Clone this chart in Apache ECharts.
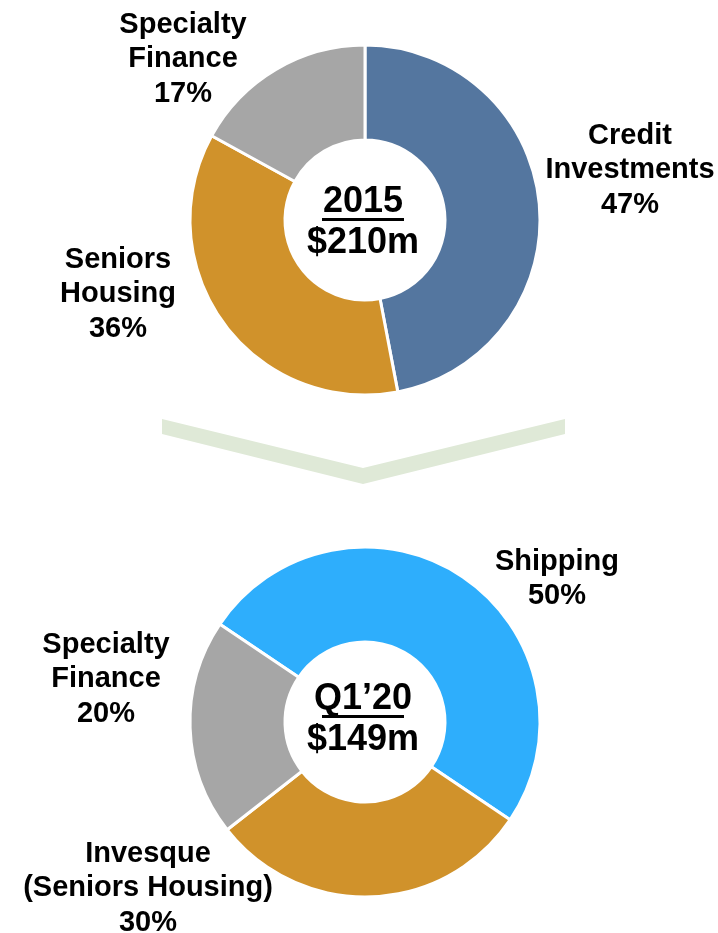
<!DOCTYPE html>
<html>
<head>
<meta charset="utf-8">
<script src="https://cdn.jsdelivr.net/npm/echarts@6/dist/echarts.min.js"></script>
<style>html,body{margin:0;padding:0;background:#fff;}#c{width:718px;height:933px;}</style>
</head>
<body>
<div id="c"></div>
<script>
// ---- data ----
const topTitle = '2015';
const topTotal = '$210m';
const topNames = ['Credit\nInvestments', 'Seniors\nHousing', 'Specialty\nFinance'];
const topValues = [47, 36, 17];
const topColors = ['#54769f', '#d0922b', '#a6a6a6'];

const botTitle = 'Q1\u201920';
const botTotal = '$149m';
const botNames = ['Shipping', 'Invesque\n(Seniors Housing)', 'Specialty\nFinance'];
const botValues = [50, 30, 20];
const botColors = ['#2eaefc', '#d0922b', '#a6a6a6'];

// ---- layout (label anchor positions, px) ----
const topLabelPos = [[630, 170], [118, 294], [183, 59]];
const botLabelPos = [[557, 579], [148, 888], [106, 679]];

const font = '"Liberation Sans", Arial, sans-serif';

function pieSeries(names, values, colors, center, startAngle, labelPos) {
  return {
    type: 'pie',
    center: center,
    radius: [80, 175],
    startAngle: startAngle,
    clockwise: true,
    avoidLabelOverlap: false,
    silent: true,
    itemStyle: { borderColor: '#ffffff', borderWidth: 3 },
    label: {
      show: true,
      position: 'outside',
      formatter: p => p.name + '\n' + p.value + '%',
      color: '#000',
      fontFamily: font,
      fontWeight: 'bold',
      fontSize: 29,
      lineHeight: 34.5,
      align: 'center'
    },
    labelLine: { show: false },
    labelLayout: function (params) {
      const pos = labelPos[params.dataIndex];
      return { x: pos[0], y: pos[1], align: 'center', verticalAlign: 'middle', moveOverlap: null };
    },
    data: names.map((n, i) => ({ name: n, value: values[i], itemStyle: { color: colors[i] } }))
  };
}

function centerText(cx, cy, title, total) {
  return [
    { type: 'text', x: cx, y: cy - 18, style: { text: title, x: 0, y: 0, fill: '#000', font: 'bold 36px ' + font, textAlign: 'center', textVerticalAlign: 'middle' } },
    { type: 'rect', x: cx - 41, y: cy - 2, shape: { x: 0, y: 0, width: 82, height: 3 }, style: { fill: '#000' } },
    { type: 'text', x: cx, y: cy + 23, style: { text: total, x: 0, y: 0, fill: '#000', font: 'bold 36px ' + font, textAlign: 'center', textVerticalAlign: 'middle' } }
  ];
}

const chart = echarts.init(document.getElementById('c'), null, { renderer: 'canvas' });
chart.setOption({
  animation: false,
  backgroundColor: '#ffffff',
  series: [
    pieSeries(topNames, topValues, topColors, [365, 220], 90, topLabelPos),
    pieSeries(botNames, botValues, botColors, [365, 722], 146, botLabelPos)
  ],
  graphic: [
    {
      type: 'polygon',
      shape: { points: [[162, 419], [363, 468], [565, 419], [565, 434], [363, 484], [162, 434]] },
      style: { fill: '#dfe9d7' }
    }
  ].concat(centerText(363, 220, topTitle, topTotal))
   .concat(centerText(363, 717, botTitle, botTotal))
});
</script>
</body>
</html>
